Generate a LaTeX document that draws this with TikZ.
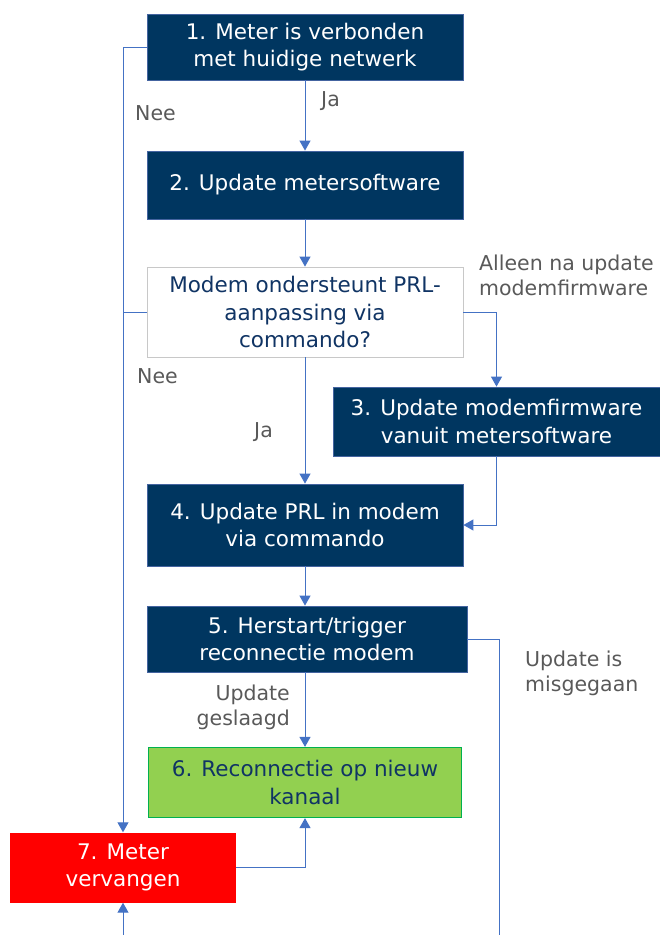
\documentclass[tikz,border=0pt]{standalone}
\usepackage{fontspec}
\setmainfont{DejaVu Sans}
\usetikzlibrary{arrows.meta}
\definecolor{navy}{RGB}{0,54,96}
\definecolor{edgeblue}{RGB}{68,100,160}
\definecolor{conncol}{RGB}{68,114,196}
\definecolor{labgray}{RGB}{89,89,89}
\definecolor{greenfill}{RGB}{146,208,80}
\definecolor{greenedge}{RGB}{0,176,80}
\definecolor{decedge}{RGB}{200,200,200}
\definecolor{textnavy}{RGB}{16,52,100}
\begin{document}
\begin{tikzpicture}[x=1pt,y=-1pt,
  txt/.style={font=\fontsize{21.5}{27.5}\selectfont, align=center, inner sep=0pt},
  box/.style={txt, draw=edgeblue, line width=0.8pt, fill=navy, text=white},
  decbox/.style={txt, draw=decedge, line width=0.8pt, fill=white, text=textnavy},
  greenbox/.style={txt, draw=greenedge, line width=1.2pt, fill=greenfill, text=textnavy},
  redbox/.style={txt, fill=red, text=white},
  conn/.style={draw=conncol, line width=1pt, -{Triangle[width=11pt,length=10pt]}},
  plain/.style={draw=conncol, line width=1pt},
  lab/.style={font=\fontsize{20.5}{25}\selectfont, text=labgray, inner sep=0pt}
]
\useasboundingbox (0,0) rectangle (660,935);

\node[box, minimum width=316pt, minimum height=66pt] (b1) at (305,47) {1. Meter is verbonden\\met huidige netwerk};
\node[box, minimum width=316pt, minimum height=68pt] (b2) at (305,185) {2. Update metersoftware};
\node[decbox, minimum width=316pt, minimum height=90pt] (dec) at (305,312) {Modem ondersteunt PRL-\\aanpassing via\\commando?};
\node[box, minimum width=327pt, minimum height=69pt] (b3) at (496.5,421.5) {3. Update modemfirmware\\vanuit metersoftware};
\node[box, minimum width=316pt, minimum height=82pt] (b4) at (305,525) {4. Update PRL in modem\\via commando};
\node[box, minimum width=320pt, minimum height=66pt] (b5) at (307,639) {5. Herstart/trigger\\reconnectie modem};
\node[greenbox, minimum width=313pt, minimum height=70pt] (b6) at (305,782.5) {6. Reconnectie op nieuw\\kanaal};
\node[redbox, minimum width=226pt, minimum height=70pt] (b7) at (123,867.5) {7. Meter\\vervangen};

\coordinate (bot1) at (123,935);
\coordinate (bot2) at (499,935);

\draw[conn] (b1.south) -- (b2.north);
\draw[conn] (b2.south) -- (dec.north);
\draw[conn] (dec.south) -- (b4.north);
\draw[conn] (dec.east) -| (b3.north);
\draw[conn] (b3.south) |- (b4.east);
\draw[conn] (b4.south) -- (b4.south |- b5.north);
\draw[conn] (b6.north |- b5.south) -- (b6.north);
\draw[conn] (b7.east) -| (b6.south);
\draw[conn] (b1.west) -| (b7.north);
\draw[plain] (dec.west) -- (dec.west -| b7.north);
\draw[conn] (bot1) -- (b7.south);
\draw[plain] (b5.east) -| (bot2);

\node[lab, anchor=west] (l1) at (135,113) {Nee};
\node[lab, anchor=west] (l2) at (321,101) {Ja};
\node[lab, anchor=north west, align=left] (l3) at (479,255) {Alleen na update\\modemfirmware};
\node[lab, anchor=west] (l4) at (137,376) {Nee};
\node[lab, anchor=west] (l5) at (254,432) {Ja};
\node[lab, anchor=north west, align=left] (l6) at (525,651) {Update is\\misgegaan};
\node[lab, anchor=north east, align=right] (l7) at (290,685) {Update\\geslaagd};
\end{tikzpicture}
\end{document}
